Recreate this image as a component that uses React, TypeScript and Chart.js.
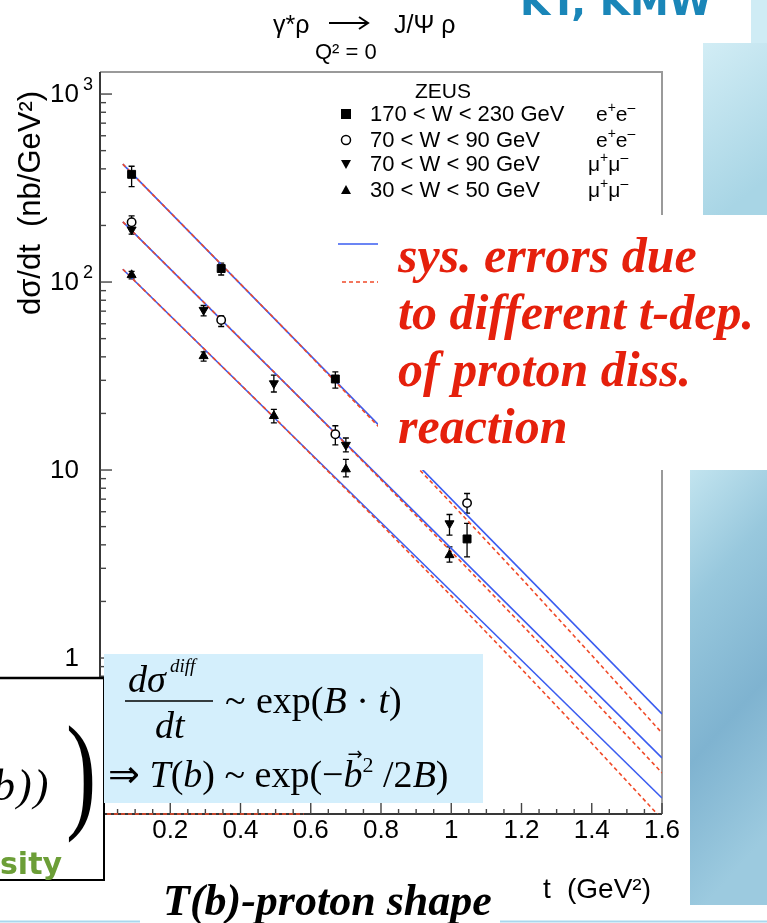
import React, { useEffect, useRef } from "react";
import { Chart, registerables } from "chart.js";

Chart.register(...registerables);

// ---- axis ranges ----
const X_MIN = 0;
const X_MAX = 1.6;
const Y_MIN = 0.148;
const Y_MAX = 1310;

// ---- tick labels ----
const xTickValues = [0.2, 0.4, 0.6, 0.8, 1.0, 1.2, 1.4, 1.6];
const xTickLabels = ["0.2", "0.4", "0.6", "0.8", "1", "1.2", "1.4", "1.6"];
const yTickValues = [1, 10, 100, 1000];
const yTickBase = ["1", "10", "10", "10"];
const yTickExp = ["", "", "2", "3"];

// ---- ZEUS data: 170 < W < 230 GeV (e+e-) ----
const tSq = [0.09, 0.345, 0.67, 1.045];
const vSq = [374, 118, 30.5, 4.3];
const loSq = [322, 109, 27.3, 3.45];
const hiSq = [413, 126, 33.3, 5.2];

// ---- 70 < W < 90 GeV (e+e-) ----
const tCirc = [0.09, 0.345, 0.67, 1.045];
const vCirc = [208, 62.8, 15.5, 6.67];
const loCirc = [193, 58, 13.6, 5.9];
const hiCirc = [225, 66, 17.2, 7.5];

// ---- 70 < W < 90 GeV (mu+mu-) ----
const tDown = [0.09, 0.295, 0.495, 0.7, 0.995];
const vDown = [190, 71, 28.9, 13.6, 5.2];
const loDown = [180, 66, 26, 12.5, 4.5];
const hiDown = [200, 75, 32, 14.8, 5.8];

// ---- 30 < W < 50 GeV (mu+mu-) ----
const tUp = [0.09, 0.295, 0.495, 0.7, 0.995];
const vUp = [109, 40.4, 19.4, 10.1, 3.53];
const loUp = [104, 38, 17.8, 9.2, 3.24];
const hiUp = [114, 42.5, 21, 11.4, 3.9];

// ---- fit curves ----
const tFitBlue = [0.065, 1.6];
const fitBlueTop = [424, 0.504];
const fitBlueMid = [209, 0.294];
const fitBlueBot = [117, 0.18];
const tFitRed = [0.065, 0.5, 0.8, 1.0, 1.2, 1.4, 1.6];
const fitRedTop = [424, 63.0, 16.5, 6.66, 2.65, 1.034, 0.399];
const fitRedMid = [209, 32.6, 8.89, 3.68, 1.51, 0.611, 0.245];
const fitRedBot = [117, 18.7, 5.15, 2.14, 0.875, 0.352, 0.139];
const tRedAxis = [0.02, 0.58];

// ---- legend ----
const legendLabels = ["170 < W < 230 GeV", "70 < W < 90 GeV", "70 < W < 90 GeV", "30 < W < 50 GeV"];
const legendLetters = ["e", "e", "\u03BC", "\u03BC"];
const legendRowsY = [114, 140, 164, 190];

const SANS = '"Liberation Sans", Arial, sans-serif';
const BLUE = "#3a5cf0";
const RED = "#f04a28";

const pts = (ts: number[], vs: number[]) => ts.map((t, i) => ({ x: t, y: vs[i] }));

function drawChannel(ctx: any, letter: string, leftX: number, y: number) {
  const big = `21px ${SANS}`;
  const small = `14px ${SANS}`;
  let x = leftX;
  ctx.textAlign = "left";
  ctx.font = big;
  const wl = ctx.measureText(letter).width;
  ctx.fillText(letter, x, y + 1);
  x += wl;
  ctx.font = small;
  ctx.fillText("+", x, y - 6);
  x += ctx.measureText("+").width;
  ctx.font = big;
  ctx.fillText(letter, x, y + 1);
  x += wl;
  ctx.font = small;
  ctx.fillText("\u2013", x, y - 6);
}

const framePlugin = {
  id: "frameTicks",
  beforeDatasetsDraw(chart: any) {
    const { ctx, chartArea, scales } = chart;
    const { left, right, top, bottom } = chartArea;
    const xs = scales.x;
    const ys = scales.y;
    ctx.save();
    ctx.lineWidth = 2;
    ctx.strokeStyle = "#9a9a9a";
    ctx.beginPath();
    ctx.moveTo(left, top);
    ctx.lineTo(right, top);
    ctx.lineTo(right, bottom);
    ctx.stroke();
    ctx.strokeStyle = "#383838";
    ctx.beginPath();
    ctx.moveTo(left, top);
    ctx.lineTo(left, bottom);
    ctx.lineTo(right, bottom);
    ctx.stroke();
    ctx.lineWidth = 1.4;
    ctx.strokeStyle = "#444";
    for (const dec of [0.1, 1, 10, 100, 1000]) {
      for (let k = 1; k <= 9; k++) {
        const v = k * dec;
        if (v < Y_MIN || v > Y_MAX) continue;
        const py = ys.getPixelForValue(v);
        const len = k === 1 ? 12 : 6;
        ctx.beginPath();
        ctx.moveTo(left, py);
        ctx.lineTo(left + len, py);
        ctx.stroke();
      }
    }
    for (let i = 0; i <= 32; i++) {
      const px = xs.getPixelForValue(i * 0.05);
      const len = i % 4 === 0 ? 11 : 5;
      ctx.beginPath();
      ctx.moveTo(px, bottom);
      ctx.lineTo(px, bottom - len);
      ctx.stroke();
    }
    // error bars
    ctx.strokeStyle = "#000";
    ctx.lineWidth = 1.3;
    chart.data.datasets.forEach((ds: any, di: number) => {
      if (!ds.errLo) return;
      const meta = chart.getDatasetMeta(di);
      meta.data.forEach((el: any, j: number) => {
        const px = el.x;
        const yl = ys.getPixelForValue(ds.errLo[j]);
        const yh = ys.getPixelForValue(ds.errHi[j]);
        ctx.beginPath();
        ctx.moveTo(px, yl);
        ctx.lineTo(px, yh);
        ctx.moveTo(px - 3, yl);
        ctx.lineTo(px + 3, yl);
        ctx.moveTo(px - 3, yh);
        ctx.lineTo(px + 3, yh);
        ctx.stroke();
      });
    });
    ctx.restore();
  },
  afterDraw(chart: any) {
    const { ctx, scales } = chart;
    const xs = scales.x;
    const ys = scales.y;
    ctx.save();
    ctx.fillStyle = "#000";
    ctx.textBaseline = "middle";
    yTickValues.forEach((v, i) => {
      const py = ys.getPixelForValue(v);
      ctx.font = `26px ${SANS}`;
      ctx.textAlign = "right";
      ctx.fillText(yTickBase[i], 79, py + 1);
      if (yTickExp[i]) {
        ctx.font = `18px ${SANS}`;
        ctx.textAlign = "left";
        ctx.fillText(yTickExp[i], 83, py - 9);
      }
    });
    ctx.font = `26px ${SANS}`;
    ctx.textAlign = "center";
    xTickValues.forEach((v, i) => {
      ctx.fillText(xTickLabels[i], xs.getPixelForValue(v), 831);
    });
    // x title
    ctx.textAlign = "left";
    ctx.font = `28px ${SANS}`;
    ctx.fillText("t", 543, 890);
    ctx.fillText("(GeV\u00B2)", 567, 890);
    // y title
    ctx.save();
    ctx.translate(31, 203);
    ctx.rotate(-Math.PI / 2);
    ctx.textAlign = "center";
    ctx.font = `31px ${SANS}`;
    ctx.fillText("d\u03C3/dt  (nb/GeV\u00B2)", 0, 0);
    ctx.restore();
    // title
    ctx.textBaseline = "alphabetic";
    ctx.textAlign = "left";
    ctx.font = `25px ${SANS}`;
    ctx.fillText("\u03B3*\u03C1", 273, 33);
    ctx.fillText("J/\u03A8 \u03C1", 394, 33);
    ctx.font = `22px ${SANS}`;
    ctx.fillText("Q\u00B2 = 0", 315, 59);
    ctx.strokeStyle = "#000";
    ctx.lineWidth = 2;
    ctx.beginPath();
    ctx.moveTo(329, 23);
    ctx.lineTo(367, 23);
    ctx.moveTo(359, 17);
    ctx.lineTo(368, 23);
    ctx.lineTo(359, 29);
    ctx.stroke();
    // legend
    ctx.textBaseline = "middle";
    ctx.font = `21px ${SANS}`;
    ctx.textAlign = "center";
    ctx.fillText("ZEUS", 443, 92);
    legendRowsY.forEach((ry, i) => {
      ctx.fillStyle = "#000";
      ctx.strokeStyle = "#000";
      ctx.lineWidth = 1.5;
      if (i === 0) {
        ctx.fillRect(341, ry - 5, 10, 10);
      } else if (i === 1) {
        ctx.beginPath();
        ctx.arc(346, ry, 4.5, 0, Math.PI * 2);
        ctx.fillStyle = "#fff";
        ctx.fill();
        ctx.stroke();
        ctx.fillStyle = "#000";
      } else if (i === 2) {
        ctx.beginPath();
        ctx.moveTo(341, ry - 4);
        ctx.lineTo(351, ry - 4);
        ctx.lineTo(346, ry + 5);
        ctx.closePath();
        ctx.fill();
      } else {
        ctx.beginPath();
        ctx.moveTo(341, ry + 4);
        ctx.lineTo(351, ry + 4);
        ctx.lineTo(346, ry - 5);
        ctx.closePath();
        ctx.fill();
      }
      ctx.font = `22px ${SANS}`;
      ctx.textAlign = "left";
      ctx.fillText(legendLabels[i], 370, ry + 1);
      drawChannel(ctx, legendLetters[i], i < 2 ? 596 : 588, ry);
    });
    // sys. error line legend
    ctx.lineWidth = 1.6;
    ctx.strokeStyle = BLUE;
    ctx.beginPath();
    ctx.moveTo(338, 244);
    ctx.lineTo(379, 244);
    ctx.stroke();
    ctx.strokeStyle = RED;
    ctx.setLineDash([4, 3]);
    ctx.beginPath();
    ctx.moveTo(342, 282);
    ctx.lineTo(379, 282);
    ctx.stroke();
    ctx.setLineDash([]);
    ctx.restore();
  },
};

function lineDs(label: string, ts: number[], vs: number[], color: string, dashed: boolean, extra: any = {}) {
  return {
    label,
    data: pts(ts, vs),
    showLine: true,
    pointRadius: 0,
    borderColor: color,
    borderWidth: 1.6,
    borderDash: dashed ? [4, 3] : [],
    fill: false,
    tension: 0,
    ...extra,
  };
}

export default function App() {
  const ref = useRef<HTMLCanvasElement>(null);
  useEffect(() => {
    const canvas = ref.current;
    if (!canvas) return;
    const chart = new Chart(canvas, {
      type: "scatter",
      data: {
        datasets: [
          {
            label: "170 < W < 230 GeV",
            data: pts(tSq, vSq),
            pointStyle: "rect",
            pointRadius: 5.6,
            pointBackgroundColor: "#000",
            pointBorderColor: "#000",
            pointBorderWidth: 1,
            errLo: loSq,
            errHi: hiSq,
          } as any,
          {
            label: "70 < W < 90 GeV ee",
            data: pts(tCirc, vCirc),
            pointStyle: "circle",
            pointRadius: 4.2,
            pointBackgroundColor: "#fff",
            pointBorderColor: "#000",
            pointBorderWidth: 1.5,
            errLo: loCirc,
            errHi: hiCirc,
          } as any,
          {
            label: "70 < W < 90 GeV mumu",
            data: pts(tDown, vDown),
            pointStyle: "triangle",
            pointRotation: 180,
            pointRadius: 5.2,
            pointBackgroundColor: "#000",
            pointBorderColor: "#000",
            pointBorderWidth: 1,
            errLo: loDown,
            errHi: hiDown,
          } as any,
          {
            label: "30 < W < 50 GeV",
            data: pts(tUp, vUp),
            pointStyle: "triangle",
            pointRadius: 5.2,
            pointBackgroundColor: "#000",
            pointBorderColor: "#000",
            pointBorderWidth: 1,
            errLo: loUp,
            errHi: hiUp,
          } as any,
          lineDs("red top", tFitRed, fitRedTop, RED, true),
          lineDs("red mid", tFitRed, fitRedMid, RED, true),
          lineDs("red bot", tFitRed, fitRedBot, RED, true),
          lineDs("red axis", tRedAxis, tRedAxis.map(() => Y_MIN), RED, true, { clip: false }),
          lineDs("blue top", tFitBlue, fitBlueTop, BLUE, false),
          lineDs("blue mid", tFitBlue, fitBlueMid, BLUE, false),
          lineDs("blue bot", tFitBlue, fitBlueBot, BLUE, false),
        ],
      },
      options: {
        animation: false,
        responsive: false,
        devicePixelRatio: 1,
        events: [],
        layout: { padding: { left: 100, top: 72, right: 105, bottom: 109 } },
        scales: {
          x: { type: "linear", min: X_MIN, max: X_MAX, display: false },
          y: { type: "logarithmic", min: Y_MIN, max: Y_MAX, display: false },
        },
        plugins: { legend: { display: false }, tooltip: { enabled: false }, title: { display: false } },
      },
      plugins: [framePlugin as any],
    });
    return () => chart.destroy();
  }, []);

  const serif = '"Liberation Serif", "Times New Roman", serif';
  return (
    <div style={{ position: "absolute", left: 0, top: 0, width: 767, height: 923, overflow: "hidden", background: "#fff" }}>
      <canvas ref={ref} width={767} height={923} style={{ position: "absolute", left: 0, top: 0, width: 767, height: 923 }} />
      <svg width={767} height={923} style={{ position: "absolute", left: 0, top: 0 }}>
        <defs>
          <linearGradient id="bgTop" x1="0" y1="0" x2="0.3" y2="1">
            <stop offset="0" stopColor="#d2edf5" />
            <stop offset="1" stopColor="#a8d5e5" />
          </linearGradient>
          <linearGradient id="bgBot" x1="0" y1="0" x2="0.2" y2="1">
            <stop offset="0" stopColor="#c2e4ef" />
            <stop offset="0.3" stopColor="#98c8dd" />
            <stop offset="0.65" stopColor="#7fb3d0" />
            <stop offset="1" stopColor="#9ccadf" />
          </linearGradient>
        </defs>
        <rect x={751} y={0} width={16} height={43} fill="#cfecf5" />
        <rect x={703} y={43} width={64} height={172} fill="url(#bgTop)" />
        <rect x={378} y={215} width={389} height={255} fill="#fff" />
        <rect x={690} y={470} width={77} height={435} fill="url(#bgBot)" />
        <line x1={0} y1={921.5} x2={140} y2={921.5} stroke="#a9d7ee" strokeWidth={2} />
        <line x1={500} y1={921.5} x2={767} y2={921.5} stroke="#a9d7ee" strokeWidth={2} />

        <text x={520} y={15} fontFamily='"DejaVu Sans", sans-serif' fontWeight="bold" fontSize={39} fill="#1a86b8">
          KT, KMW
        </text>

        <text fontFamily={serif} fontWeight="bold" fontStyle="italic" fontSize={50} fill="#e5200c">
          <tspan x={398} y={272}>sys. errors due</tspan>
          <tspan x={398} y={329}>to different t-dep.</tspan>
          <tspan x={398} y={386}>of proton diss.</tspan>
          <tspan x={398} y={443}>reaction</tspan>
        </text>

        <rect x={-2} y={678} width={106} height={202} fill="#fff" />
        <line x1={0} y1={678} x2={104} y2={678} stroke="#000" strokeWidth={2.5} />
        <line x1={104} y1={678} x2={104} y2={881} stroke="#000" strokeWidth={2} />
        <line x1={0} y1={880} x2={105} y2={880} stroke="#000" strokeWidth={2} />
        <text x={-7} y={800} fontFamily={serif} fontStyle="italic" fontSize={44} letterSpacing={2}>
          b))
        </text>
        <text transform="translate(66,815) scale(0.7,1)" fontFamily={serif} fontSize={130}>
          )
        </text>
        <text x={0} y={874} fontFamily='"DejaVu Sans", sans-serif' fontWeight="bold" fontSize={30} fill="#6c9e37">
          sity
        </text>

        <rect x={104} y={654} width={379} height={149} fill="#d4effc" />
        <g fontFamily={serif} fontSize={38} fill="#000">
          <text x={128} y={692} fontStyle="italic">{"d\u03C3"}</text>
          <text x={170} y={672} fontStyle="italic" fontSize={19}>diff</text>
          <line x1={125} y1={701} x2={213} y2={701} stroke="#000" strokeWidth={1.6} />
          <text x={155} y={738} fontStyle="italic">dt</text>
          <text x={225} y={713}>~</text>
          <text x={256} y={713}>
            {"exp("}
            <tspan fontStyle="italic">B</tspan>
            {" \u00B7 "}
            <tspan fontStyle="italic">t</tspan>
            {")"}
          </text>
          <text x={108} y={787}>
            {"\u21D2 "}
            <tspan fontStyle="italic">T</tspan>
            {"("}
            <tspan fontStyle="italic">b</tspan>
            {") ~ exp(\u2212"}
            <tspan fontStyle="italic">b</tspan>
            <tspan fontSize={18} fontFamily='"DejaVu Sans", sans-serif' dx={-15} dy={-27}>{"\u2192"}</tspan>
            <tspan fontSize={22} dx={0} dy={12}>2</tspan>
            <tspan dy={15}>{" /2"}</tspan>
            <tspan fontStyle="italic">B</tspan>
            {")"}
          </text>
        </g>

        <text x={163} y={915} fontFamily={serif} fontWeight="bold" fontStyle="italic" fontSize={44}>
          T(b)-proton shape
        </text>
      </svg>
    </div>
  );
}
